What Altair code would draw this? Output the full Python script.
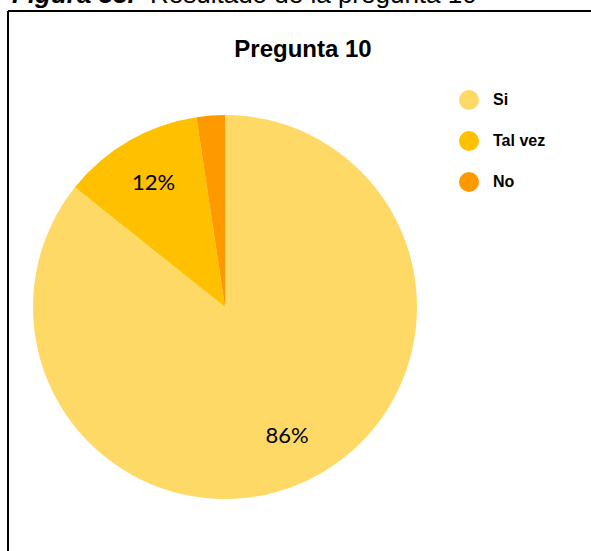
import altair as alt
import pandas as pd

categories = ["Si", "Tal vez", "No"]
counts = [36, 5, 1]
colors = ["#FFD966", "#FFC000", "#FF9900"]

total = sum(counts)
df = pd.DataFrame({
    "cat": categories,
    "n": counts,
    "order": list(range(len(categories))),
})
df["pct"] = [f"{round(100 * c / total)}%" for c in counts]

cx, cy, R = 225, 307, 192

color = alt.Color(
    "cat:N",
    scale=alt.Scale(domain=categories, range=colors),
    sort=categories,
    legend=alt.Legend(
        title=None,
        orient="none",
        legendX=459,
        legendY=90,
        symbolType="circle",
        symbolSize=400,
        symbolStrokeWidth=0,
        labelFont="Liberation Sans",
        labelFontSize=16,
        labelFontWeight="bold",
        labelColor="#000000",
        labelOffset=14,
        rowPadding=21,
        padding=0,
    ),
)

pie = alt.Chart(df).mark_arc(radius=R, stroke=None).encode(
    theta=alt.Theta("n:Q", stack=True),
    color=color,
    order=alt.Order("order:Q"),
    x=alt.value(cx),
    y=alt.value(cy),
)

labels = alt.Chart(df).mark_text(
    radius=143, font="Lato", fontSize=22, color="#000000"
).encode(
    theta=alt.Theta("n:Q", stack=True),
    order=alt.Order("order:Q"),
    text=alt.condition(alt.datum.n / total > 0.05, "pct:N", alt.value("")),
    x=alt.value(cx),
    y=alt.value(cy),
)

title_df = pd.DataFrame({"t": ["Pregunta 10"]})
title = alt.Chart(title_df).mark_text(
    font="Liberation Sans", fontSize=24, fontWeight="bold", color="#000000"
).encode(text="t:N", x=alt.value(303), y=alt.value(50))

fig_df = pd.DataFrame({"a": ["Figura 33."], "b": ["Resultado de la pregunta 10"]})
fig_a = alt.Chart(fig_df).mark_text(
    font="Liberation Sans", fontSize=26, fontWeight="bold", fontStyle="italic",
    align="left", baseline="alphabetic", color="#000000"
).encode(text="a:N", x=alt.value(12), y=alt.value(3))
fig_b = alt.Chart(fig_df).mark_text(
    font="Liberation Sans", fontSize=26, align="left", baseline="alphabetic",
    color="#000000"
).encode(text="b:N", x=alt.value(150), y=alt.value(3))

border_df = pd.DataFrame({"k": [0]})
left_line = alt.Chart(border_df).mark_rule(color="#000000", strokeWidth=2).encode(
    x=alt.value(8), y=alt.value(11), y2=alt.value(600)
)
top_line = alt.Chart(border_df).mark_rule(color="#000000", strokeWidth=2).encode(
    x=alt.value(8), x2=alt.value(700), y=alt.value(11)
)

chart = alt.layer(left_line, top_line, pie, labels, title, fig_a, fig_b).properties(
    width=591, height=551, padding=0,
    autosize=alt.AutoSizeParams(type="none"),
    background="#FFFFFF",
).configure_view(stroke=None)

chart.save("out.html", embed_options={"renderer": "svg", "actions": False})
